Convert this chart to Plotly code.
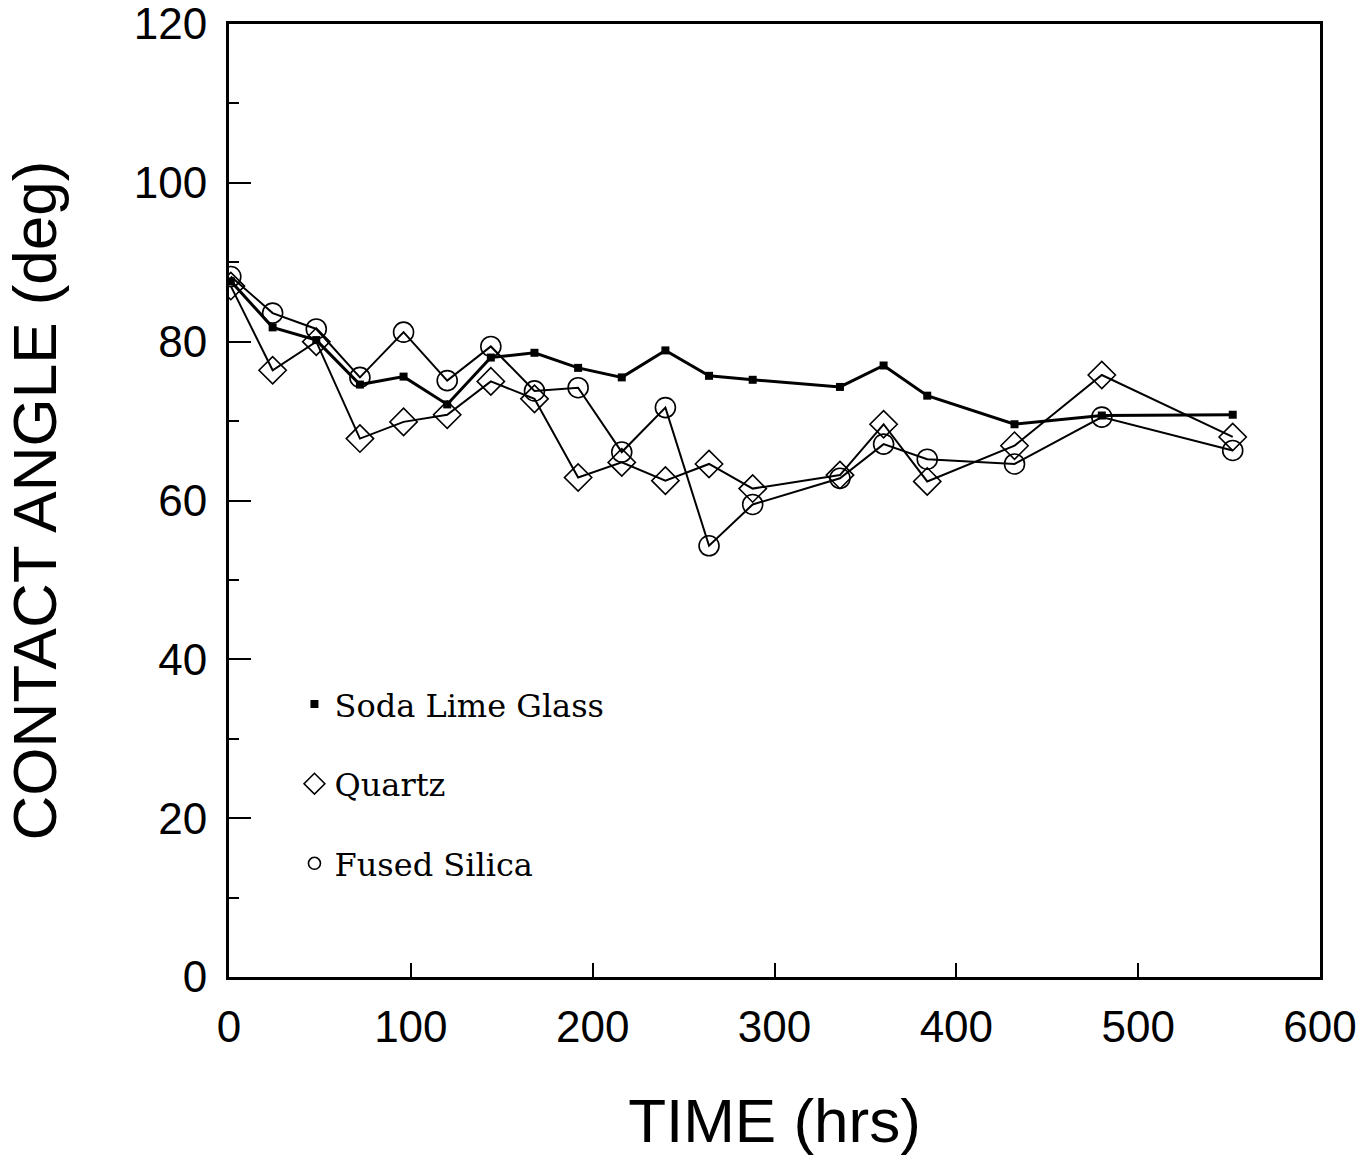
import plotly.graph_objects as go

# Time (hrs)
time_hrs = [1, 24, 48, 72, 96, 120, 144, 168, 192, 216, 240, 264, 288, 336, 360, 384, 432, 480, 552]

# Contact angle (deg)
soda_lime = [87.6, 81.8, 80.2, 74.6, 75.6, 72.1, 78.0, 78.6, 76.7, 75.5, 78.9, 75.7, 75.2, 74.3, 77.0, 73.2, 69.6, 70.7, 70.8]
quartz = [87.0, 76.4, 80.0, 67.8, 69.9, 70.8, 75.0, 72.8, 62.9, 64.8, 62.5, 64.6, 61.5, 63.2, 69.6, 62.4, 66.9, 75.8, 68.0]
fused_silica = [88.2, 83.6, 81.6, 75.5, 81.2, 75.1, 79.4, 73.8, 74.2, 66.1, 71.7, 54.3, 59.5, 62.8, 67.1, 65.2, 64.6, 70.5, 66.3]

series_names = ["Soda Lime Glass", "Quartz", "Fused Silica"]

fig = go.Figure()

fig.add_trace(go.Scatter(
    x=time_hrs, y=quartz, mode="lines+markers", showlegend=False,
    line=dict(color="black", width=2),
    marker=dict(symbol="diamond-open", size=21, color="black", line=dict(width=1.6, color="black")),
))
fig.add_trace(go.Scatter(
    x=time_hrs, y=fused_silica, mode="lines+markers", showlegend=False,
    line=dict(color="black", width=2),
    marker=dict(symbol="circle-open", size=20, color="black", line=dict(width=1.6, color="black")),
))
fig.add_trace(go.Scatter(
    x=time_hrs, y=soda_lime, mode="lines+markers", showlegend=False,
    line=dict(color="black", width=3),
    marker=dict(symbol="square", size=8, color="black"),
))

# legend-only entries (markers only, as in the original key)
fig.add_trace(go.Scatter(x=[None], y=[None], mode="markers", name=series_names[0], legendgroup="a",
                         marker=dict(symbol="square", size=8, color="black")))
fig.add_trace(go.Scatter(x=[None], y=[None], mode="markers", name=series_names[1], legendgroup="b",
                         marker=dict(symbol="diamond-open", size=16, color="black", line=dict(width=1.6, color="black"))))
fig.add_trace(go.Scatter(x=[None], y=[None], mode="markers", name=series_names[2], legendgroup="c",
                         marker=dict(symbol="circle-open", size=12, color="black", line=dict(width=1.6, color="black"))))

axis_font = dict(family="Liberation Sans, Arial, sans-serif", size=44, color="black")
title_font = dict(family="Liberation Sans, Arial, sans-serif", size=62, color="black")

fig.update_layout(
    width=1370, height=1155,
    margin=dict(l=229, r=50, t=24, b=178),
    paper_bgcolor="white", plot_bgcolor="white",
    showlegend=True,
    legend=dict(
        x=0.06, y=0.315, xanchor="left", yanchor="top",
        font=dict(family="DejaVu Serif, serif", size=32, color="black"),
        bgcolor="rgba(0,0,0,0)", tracegroupgap=35, itemwidth=30,
    ),
    xaxis=dict(
        range=[0, 600], dtick=100, tick0=0,
        showline=True, linecolor="black", linewidth=3, mirror=True,
        ticks="inside", ticklen=14, tickwidth=2, tickcolor="black",
        showgrid=False, zeroline=False,
        tickfont=axis_font, ticklabelstandoff=9, ticklabeloverflow="allow",
        title=dict(text="TIME (hrs)", font=title_font, standoff=50),
        automargin=False,
    ),
    yaxis=dict(
        range=[0, 120], dtick=20, tick0=0,
        showline=True, linecolor="black", linewidth=3, mirror=True,
        ticks="inside", ticklen=22, tickwidth=2, tickcolor="black",
        minor=dict(dtick=10, ticks="inside", ticklen=10, tickwidth=2, tickcolor="black"),
        showgrid=False, zeroline=False,
        tickfont=axis_font, ticklabelstandoff=10, ticklabeloverflow="allow",
        title=dict(text="CONTACT ANGLE (deg)", font=title_font, standoff=60),
        automargin=False,
    ),
)

fig.write_html("out.html")
